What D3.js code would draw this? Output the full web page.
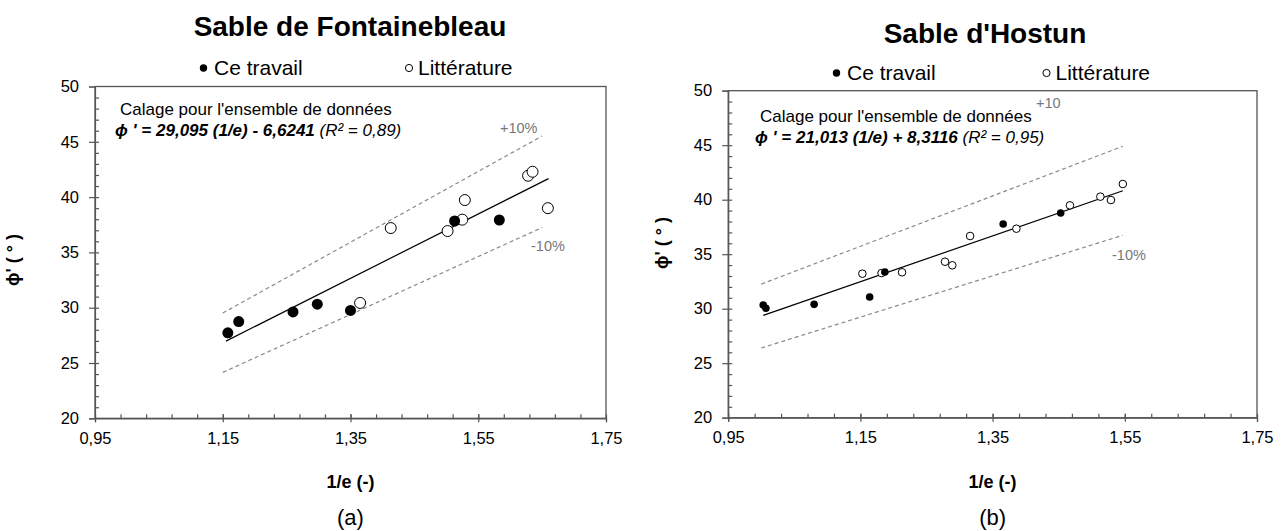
<!DOCTYPE html>
<html>
<head>
<meta charset="utf-8">
<script src="https://cdn.jsdelivr.net/npm/d3@7"></script>
<style>
  body { margin: 0; background: #fff; }
  text { font-family: 'Liberation Sans', Arial, sans-serif; }
</style>
</head>
<body>
<div id="chart-area"></div>
<script>
// Sable de Fontainebleau
const fontaineTravailX = [1.158, 1.175, 1.260, 1.298, 1.350, 1.513, 1.583];
const fontaineTravailY = [27.73, 28.75, 29.62, 30.32, 29.75, 37.84, 37.93];
const fontaineLitX = [1.365, 1.413, 1.502, 1.525, 1.529, 1.628, 1.635, 1.659];
const fontaineLitY = [30.43, 37.20, 36.93, 37.96, 39.73, 41.93, 42.29, 39.00];
const fontaineFit = {slope: 29.095, intercept: -6.6241, r2: '0,89', from: 1.155, to: 1.66};
const fontaineBand = [1.15, 1.65];

// Sable d'Hostun
const hostunTravailX = [1.003, 1.007, 1.080, 1.164, 1.187, 1.366, 1.453];
const hostunTravailY = [30.34, 30.04, 30.40, 31.07, 33.37, 37.77, 38.78];
const hostunLitX = [1.153, 1.182, 1.213, 1.278, 1.289, 1.316, 1.386, 1.467, 1.513, 1.529, 1.547];
const hostunLitY = [33.21, 33.27, 33.34, 34.31, 33.98, 36.67, 37.34, 39.48, 40.28, 39.97, 41.44];
const hostunFit = {slope: 21.013, intercept: 8.3116, r2: '0,95', from: 1.003, to: 1.547};
const hostunBand = [1.0, 1.547];

const xTicks = [0.95, 1.15, 1.35, 1.55, 1.75];
const yTicks = [20, 25, 30, 35, 40, 45, 50];

const svg = d3.select('#chart-area')
    .append('svg')
    .attr('width', 1286)
    .attr('height', 531);

const fmt = d => d3.format('.2f')(d).replace('.', ',');

const drawPanel = (p) => {
    const g = svg.append('g');

    const xScale = d3.scaleLinear().domain([0.95, 1.75]).range([p.left, p.right]);
    const yScale = d3.scaleLinear().domain([20, 50]).range([p.bottom, p.top]);

    // titre
    g.append('text')
        .text(p.title)
        .attr('x', p.titleX)
        .attr('y', p.titleY)
        .attr('text-anchor', 'middle')
        .attr('font-size', '28px')
        .attr('font-weight', 'bold');

    // legende
    g.append('circle')
        .attr('cx', p.leg[0]).attr('cy', p.legY - 7).attr('r', 3.7)
        .attr('fill', '#000');
    g.append('text').text('Ce travail')
        .attr('x', p.leg[0] + 10.5).attr('y', p.legY)
        .attr('font-size', '21px');
    g.append('circle')
        .attr('cx', p.leg[1]).attr('cy', p.legY - 7).attr('r', 3.6)
        .attr('fill', 'none').attr('stroke', '#000').attr('stroke-width', 1);
    g.append('text').text('Littérature')
        .attr('x', p.leg[1] + 9).attr('y', p.legY)
        .attr('font-size', '21px');

    // cadre
    g.append('rect')
        .attr('x', p.left).attr('y', p.top)
        .attr('width', p.right - p.left).attr('height', p.bottom - p.top)
        .attr('fill', 'none').attr('stroke', '#555').attr('stroke-width', 1.3);

    // axes
    const xAxisCall = d3.axisBottom(xScale)
        .tickValues(xTicks).tickFormat(fmt).tickSize(4).tickPadding(10);
    const xAxis = g.append('g')
        .attr('transform', 'translate(0, ' + p.bottom + ')')
        .call(xAxisCall);
    xAxis.selectAll('.tick line').attr('y1', -4);

    g.append('g')
        .attr('transform', 'translate(0, ' + p.bottom + ')')
        .call(d3.axisBottom(xScale).tickValues(d3.range(0.99, 1.75, 0.04)).tickSize(-4).tickFormat(''))
        .call(a => a.select('.domain').remove());

    const yAxisCall = d3.axisLeft(yScale).tickValues(yTicks).tickSize(6).tickPadding(10);
    g.append('g')
        .attr('transform', 'translate(' + p.left + ', 0)')
        .call(yAxisCall);

    g.append('g')
        .attr('transform', 'translate(' + p.left + ', 0)')
        .call(d3.axisLeft(yScale).tickValues(d3.range(21, 50, 1)).tickSize(-4).tickFormat(''))
        .call(a => a.select('.domain').remove());

    g.selectAll('.domain, .tick line').attr('stroke', '#555').attr('stroke-width', 1.2);
    g.selectAll('.tick text').attr('font-size', '16.5px').attr('fill', '#000')
        .attr('font-family', "'Liberation Sans', Arial, sans-serif");

    // titres d'axes
    g.append('text')
        .text('1/e (-)')
        .attr('x', (p.left + p.right) / 2)
        .attr('y', 488)
        .attr('text-anchor', 'middle')
        .attr('font-size', '18px')
        .attr('font-weight', 'bold');

    g.append('text')
        .text('ϕ\' ( ° )')
        .attr('transform', 'rotate(-90)')
        .attr('x', -p.yTitleY)
        .attr('y', p.yTitleX)
        .attr('text-anchor', 'middle')
        .attr('font-size', '18px')
        .attr('font-weight', 'bold');

    g.append('text')
        .text(p.label)
        .attr('x', (p.left + p.right) / 2)
        .attr('y', 525)
        .attr('text-anchor', 'middle')
        .attr('font-size', '22px');

    // bandes +-10%
    const fit = p.fit;
    const f = x => fit.slope * x + fit.intercept;
    [1.1, 0.9].forEach(k => {
        g.append('line')
            .attr('x1', xScale(p.band[0])).attr('y1', yScale(k * f(p.band[0])))
            .attr('x2', xScale(p.band[1])).attr('y2', yScale(k * f(p.band[1])))
            .attr('stroke', '#8a8a8a').attr('stroke-width', 1.2)
            .attr('stroke-dasharray', '4,3');
    });

    // droite de calage
    g.append('line')
        .attr('x1', xScale(fit.from)).attr('y1', yScale(f(fit.from)))
        .attr('x2', xScale(fit.to)).attr('y2', yScale(f(fit.to)))
        .attr('stroke', '#000').attr('stroke-width', 1.2);

    g.append('text').text(p.plusText)
        .attr('x', p.plus[0]).attr('y', p.plus[1])
        .attr('font-size', '14.5px').attr('fill', '#777');
    g.append('text').text('-10%')
        .attr('x', p.minus[0]).attr('y', p.minus[1])
        .attr('font-size', '14.5px').attr('fill', '#777');

    // annotation
    g.append('text').text('Calage pour l\'ensemble de données')
        .attr('x', p.note[0] + 5).attr('y', p.note[1])
        .attr('font-size', '17px');
    const eq = g.append('text')
        .attr('x', p.note[0]).attr('y', p.note[1] + 21)
        .attr('font-size', '17px').attr('font-style', 'italic');
    const sign = fit.intercept < 0 ? ' - ' : ' + ';
    eq.append('tspan').attr('font-weight', 'bold')
        .text('ϕ \' = ' + String(fit.slope.toFixed(3)).replace('.', ',') + ' (1/e)' + sign
            + String(Math.abs(fit.intercept).toFixed(4)).replace('.', ','));
    eq.append('tspan').text(' (R² = ' + fit.r2 + ')');

    // points
    const litData = p.litX.map((x, i) => ({x: x, y: p.litY[i]}));
    const travailData = p.travX.map((x, i) => ({x: x, y: p.travY[i]}));

    g.selectAll('circle.lit').data(litData).enter()
        .append('circle').attr('class', 'lit')
        .attr('cx', d => xScale(d.x)).attr('cy', d => yScale(d.y))
        .attr('r', p.r)
        .attr('fill', '#fff').attr('stroke', '#000').attr('stroke-width', 1);

    g.selectAll('circle.trav').data(travailData).enter()
        .append('circle').attr('class', 'trav')
        .attr('cx', d => xScale(d.x)).attr('cy', d => yScale(d.y))
        .attr('r', p.r)
        .attr('fill', '#000');
};

drawPanel({
    title: 'Sable de Fontainebleau', titleX: 350, titleY: 36,
    leg: [203.5, 409], legY: 75,
    left: 95, right: 606, top: 86.5, bottom: 418.3,
    yTitleX: 19, yTitleY: 260, label: '(a)',
    fit: fontaineFit, band: fontaineBand,
    plusText: '+10%', plus: [500, 133], minus: [531, 251],
    note: [115, 115],
    travX: fontaineTravailX, travY: fontaineTravailY,
    litX: fontaineLitX, litY: fontaineLitY, r: 5.5
});

drawPanel({
    title: 'Sable d\'Hostun', titleX: 985, titleY: 43,
    leg: [836.5, 1046.5], legY: 80,
    left: 728.2, right: 1257, top: 90.7, bottom: 417.7,
    yTitleX: 668, yTitleY: 243, label: '(b)',
    fit: hostunFit, band: hostunBand,
    plusText: '+10', plus: [1036, 108], minus: [1112, 260],
    note: [755, 121.7],
    travX: hostunTravailX, travY: hostunTravailY,
    litX: hostunLitX, litY: hostunLitY, r: 3.8
});
</script>
</body>
</html>
